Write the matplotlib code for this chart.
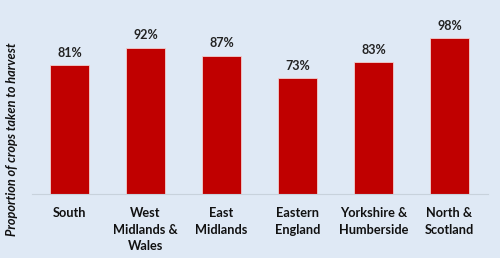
import matplotlib
matplotlib.use("Agg")
import matplotlib.pyplot as plt

regions = ["South", "West\nMidlands &\nWales", "East\nMidlands", "Eastern\nEngland",
           "Yorkshire &\nHumberside", "North &\nScotland"]
values = [81, 92, 87, 73, 83, 98]

bg = "#dfe9f5"
plt.rcParams['font.family'] = ['Lato', 'DejaVu Sans']

fig = plt.figure(figsize=(5, 2.58), dpi=100, facecolor=bg)
ax = fig.add_axes([31.5/500, 64/258, 456/500, 184/258])
ax.set_facecolor(bg)

x = range(len(values))
bars = ax.bar(x, values, width=0.51, color="#c00000", edgecolor="#f0d0d0", linewidth=0.6)
for xi, v in zip(x, values):
    ax.text(xi, v + 4, f"{v}%", ha="center", va="bottom", fontsize=9, fontweight="bold", color="#222222")

ax.set_xlim(-0.5, 5.5)
ax.set_ylim(0, 184/1.59)
ax.set_yticks([])
ax.set_xticks(list(x))
ax.set_xticklabels(regions, fontsize=9.2, fontweight="bold", color="#111111", linespacing=1.45)
ax.tick_params(axis="x", length=0, pad=9.5)
for s in ["top", "right", "left"]:
    ax.spines[s].set_visible(False)
ax.spines["bottom"].set_color("#c8d2dc")
ax.spines["bottom"].set_linewidth(0.8)

fig.text(12/500, 1 - 139/258, "Proportion of crops taken to harvest", rotation=90,
         ha="center", va="center", fontsize=9.2, fontweight="bold", fontstyle="italic", color="#111111")

fig.savefig("out.png", dpi=100, facecolor=bg)
